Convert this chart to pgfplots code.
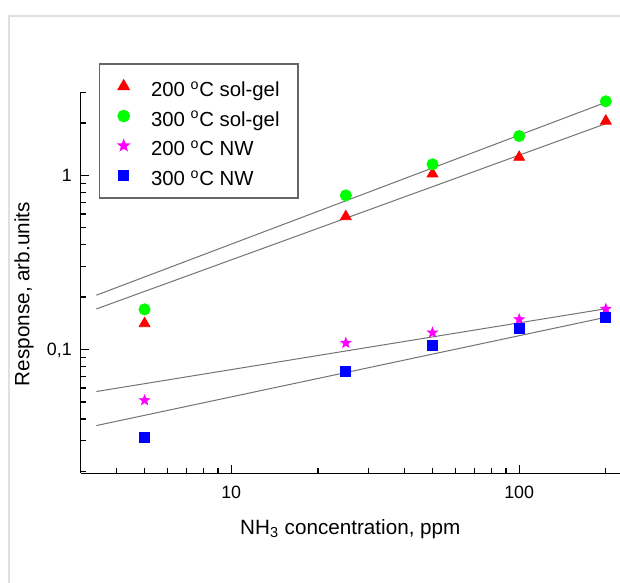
\documentclass[border=0pt]{standalone}
\usepackage{fontspec}
\setmainfont{Liberation Sans}
\usepackage{pgfplots}
\pgfplotsset{compat=1.18}
\definecolor{cgreen}{RGB}{0,255,0}
\definecolor{cred}{RGB}{255,0,0}
\definecolor{cmag}{RGB}{255,0,255}
\definecolor{cblue}{RGB}{0,0,255}
\pgfdeclareplotmark{fstar}{%
  \pgfpathmoveto{\pgfpointpolar{90}{\pgfplotmarksize}}%
  \pgfpathlineto{\pgfpointpolar{126}{0.42\pgfplotmarksize}}%
  \pgfpathlineto{\pgfpointpolar{162}{\pgfplotmarksize}}%
  \pgfpathlineto{\pgfpointpolar{198}{0.42\pgfplotmarksize}}%
  \pgfpathlineto{\pgfpointpolar{234}{\pgfplotmarksize}}%
  \pgfpathlineto{\pgfpointpolar{270}{0.42\pgfplotmarksize}}%
  \pgfpathlineto{\pgfpointpolar{306}{\pgfplotmarksize}}%
  \pgfpathlineto{\pgfpointpolar{342}{0.42\pgfplotmarksize}}%
  \pgfpathlineto{\pgfpointpolar{18}{\pgfplotmarksize}}%
  \pgfpathlineto{\pgfpointpolar{54}{0.42\pgfplotmarksize}}%
  \pgfpathclose
  \pgfusepathqfillstroke
}
\begin{document}
\begin{tikzpicture}
\path[use as bounding box] (-48.42pt,-65.88pt) rectangle (323.58pt,283.92pt);
\draw[black!12, line width=1pt] (-43.02pt,-65.88pt) -- (-43.02pt,274.32pt) -- (323.58pt,274.32pt);
\begin{axis}[
  scale only axis,
  width=323.58pt, height=228.6pt,
  xmode=log, ymode=log,
  xmin=3, xmax=224, ymin=0.0195, ymax=3,
  axis x line*=bottom, axis y line*=left,
  axis line style={line width=0.8pt},
  tick align=inside,
  major tick length=4.8pt, minor tick length=3pt,
  every tick/.style={black, line width=0.8pt},
  xtick={10,100}, xticklabels={10,100},
  minor xtick={3,4,5,6,7,8,9,20,30,40,50,60,70,80,90,200},
  ytick={0.1,1}, yticklabels={{0,1},1},
  minor ytick={0.02,0.03,0.04,0.05,0.06,0.07,0.08,0.09,0.2,0.3,0.4,0.5,0.6,0.7,0.8,0.9,2,3},
  tick label style={font=\fontsize{10.7}{12}\selectfont},
  xticklabel style={anchor=base, inner sep=0pt, yshift=-15.2pt},
  yticklabel style={anchor=base east, inner sep=0pt, xshift=-5.2pt, yshift=-3.8pt},
  xlabel={NH\textsubscript{3} concentration, ppm},
  ylabel={Response, arb.units},
  label style={font=\fontsize{12.4}{14}\selectfont},
  xlabel style={at={(axis description cs:0.5,-0.146)}, anchor=center},
  ylabel style={at={(axis description cs:-0.105,0.47)}, anchor=center, rotate=0},
  legend style={at={(axis description cs:0.034,1.076)}, anchor=north west,
    draw=black!60, line width=0.8pt, inner xsep=11pt, inner ysep=7.5pt,
    font=\fontsize{12.2}{14}\selectfont,
    nodes={inner sep=0pt, text height=12pt, text depth=0pt},
    row sep=5.8pt,
    /tikz/every odd column/.append style={column sep=13pt}},
  legend cell align=left,
  clip=false,
]
\addplot[forget plot, black!55, line width=0.6pt] coordinates {(3.4,0.205) (207,2.68)};
\addplot[forget plot, black!55, line width=0.6pt] coordinates {(3.4,0.171) (207,2.02)};
\addplot[forget plot, black!55, line width=0.6pt] coordinates {(3.4,0.0574) (207,0.173)};
\addplot[forget plot, black!55, line width=0.6pt] coordinates {(3.4,0.0366) (207,0.155)};
\addplot[only marks, mark=triangle*, mark size=3.8pt, color=cred] coordinates {
  (5,0.141) (25,0.58) (50,1.02) (100,1.27) (200,2.05)};
\addlegendentry{200 \textsuperscript{o}C sol-gel}
\addplot[only marks, mark=*, mark size=3.4pt, color=cgreen] coordinates {
  (5,0.170) (25,0.767) (50,1.157) (100,1.68) (200,2.66)};
\addlegendentry{300 \textsuperscript{o}C sol-gel}
\addplot[only marks, mark=fstar, mark size=3.2pt, color=cmag] coordinates {
  (5,0.0511) (25,0.109) (50,0.125) (100,0.149) (200,0.171)};
\addlegendentry{200 \textsuperscript{o}C NW}
\addplot[only marks, mark=square*, mark size=3pt, color=cblue] coordinates {
  (5,0.0315) (25,0.075) (50,0.106) (100,0.1325) (200,0.153)};
\addlegendentry{300 \textsuperscript{o}C NW}
\end{axis}
\end{tikzpicture}
\end{document}
